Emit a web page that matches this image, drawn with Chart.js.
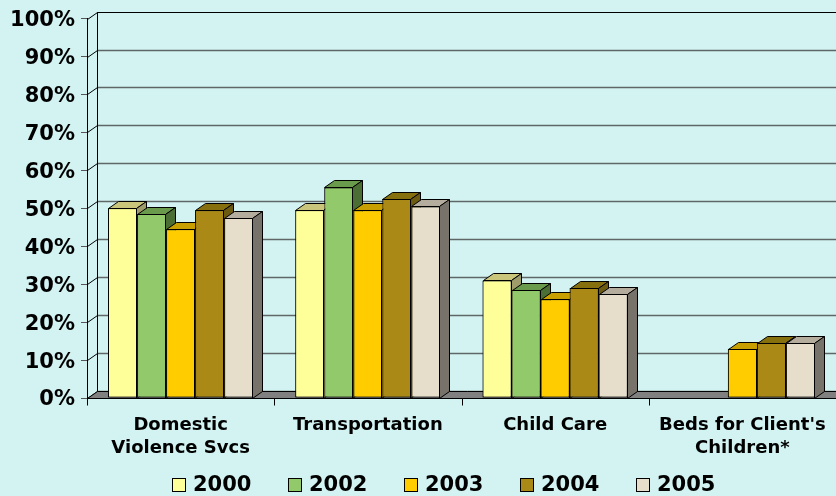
<!DOCTYPE html>
<html>
<head>
<meta charset="utf-8">
<script src="https://cdn.jsdelivr.net/npm/chart.js@4.4.0/dist/chart.umd.min.js"></script>
<style>
  html, body { margin: 0; padding: 0; background: #D3F3F3; }
  #wrap { width: 836px; height: 496px; }
</style>
</head>
<body>
<div id="wrap"><canvas id="c" width="836" height="496"></canvas></div>
<script>
// categories and values
const categories = [['Domestic', 'Violence Svcs'], 'Transportation', 'Child Care', ["Beds for Client's", 'Children*']];
const years = ['2000', '2002', '2003', '2004', '2005'];
const v2000 = [50, 49.5, 31, null];
const v2002 = [48.5, 55.5, 28.5, null];
const v2003 = [44.5, 49.5, 26, 13];
const v2004 = [49.5, 52.5, 29, 14.5];
const v2005 = [47.5, 50.5, 27.5, 14.5];
const yTicks = [0, 10, 20, 30, 40, 50, 60, 70, 80, 90, 100];

// front / top / side colours per series
const fronts = ['#FFFF99', '#92C96A', '#FFCC00', '#AA8916', '#E6DECA'];
const tops = ['#C9C57A', '#6A9A4C', '#C79F00', '#86700E', '#B4AC9C'];
const sides = ['#9E9C6B', '#4B6E34', '#9E7E00', '#6B5A10', '#77736A'];

const DX = 10, DY = -7; // depth offset of the 3d look
const FONT = "'DejaVu Sans', Verdana, sans-serif";

const series = [v2000, v2002, v2003, v2004, v2005];

const threeD = {
  id: 'threeD',
  beforeDraw(chart) {
    const ctx = chart.ctx;
    ctx.save();
    ctx.fillStyle = '#D3F3F3';
    ctx.fillRect(0, 0, chart.width, chart.height);
    ctx.restore();
  },
  beforeDatasetsDraw(chart) {
    const ctx = chart.ctx;
    const a = chart.chartArea;
    const y = chart.scales.y;
    ctx.save();
    // back wall gridlines
    yTicks.forEach(t => {
      const py = Math.round(y.getPixelForValue(t)) + 0.5;
      ctx.strokeStyle = t === 100 ? '#000' : '#5f6666';
      ctx.lineWidth = t === 100 ? 1 : 1.3;
      ctx.beginPath();
      ctx.moveTo(a.left + DX, py + DY);
      ctx.lineTo(a.right + DX, py + DY);
      ctx.stroke();
      // side wall connectors
      ctx.strokeStyle = '#000';
      ctx.lineWidth = 1;
      ctx.beginPath();
      ctx.moveTo(a.left + 0.5, py);
      ctx.lineTo(a.left + DX + 0.5, py + DY);
      ctx.stroke();
    });
    // back edge of side wall
    ctx.strokeStyle = '#000';
    ctx.lineWidth = 1;
    ctx.beginPath();
    ctx.moveTo(a.left + DX + 0.5, Math.round(a.top) + DY);
    ctx.lineTo(a.left + DX + 0.5, Math.round(a.bottom) + DY);
    ctx.stroke();
    // floor
    const b = Math.round(a.bottom) + 0.5;
    ctx.fillStyle = '#808080';
    ctx.beginPath();
    ctx.moveTo(a.left + 0.5, b);
    ctx.lineTo(a.right + DX, b);
    ctx.lineTo(a.right + DX, b + DY);
    ctx.lineTo(a.left + DX + 0.5, b + DY);
    ctx.closePath();
    ctx.fill();
    ctx.stroke();
    // category tick marks under the floor
    for (let i = 0; i <= categories.length; i++) {
      const px = Math.round(a.left + (a.right - a.left) * i / categories.length) + 0.5;
      ctx.beginPath();
      ctx.moveTo(px, b);
      ctx.lineTo(px, b + 7);
      ctx.stroke();
    }
    ctx.restore();
  },
  afterDatasetsDraw(chart) {
    // redraw bars left to right so each one hides its left neighbour's side
    const ctx = chart.ctx;
    series.forEach((vals, i) => {
      const meta = chart.getDatasetMeta(i);
      meta.data.forEach((el, j) => {
        if (vals[j] == null) return;
        el.draw(ctx);
        const p = el.getProps(['x', 'y', 'base', 'width'], true);
        const l = Math.round(p.x - p.width / 2) + 0.5;
        const r = Math.round(p.x + p.width / 2) - 0.5;
        const t = Math.round(p.y) + 0.5;
        const bt = Math.round(p.base) + 0.5;
        ctx.save();
        ctx.strokeStyle = '#000';
        ctx.lineWidth = 1;
        ctx.fillStyle = tops[i];
        ctx.beginPath();
        ctx.moveTo(l, t);
        ctx.lineTo(r, t);
        ctx.lineTo(r + DX, t + DY);
        ctx.lineTo(l + DX, t + DY);
        ctx.closePath();
        ctx.fill();
        ctx.stroke();
        ctx.fillStyle = sides[i];
        ctx.beginPath();
        ctx.moveTo(r, t);
        ctx.lineTo(r + DX, t + DY);
        ctx.lineTo(r + DX, bt + DY);
        ctx.lineTo(r, bt);
        ctx.closePath();
        ctx.fill();
        ctx.stroke();
        ctx.restore();
      });
    });
  },
  afterDraw(chart) {
    // legend row
    const ctx = chart.ctx;
    ctx.save();
    ctx.font = 'bold 21px ' + FONT;
    ctx.textBaseline = 'middle';
    years.forEach((yr, i) => {
      const bx = 172 + 116 * i;
      ctx.fillStyle = fronts[i];
      ctx.fillRect(bx + 0.5, 478.5, 13, 13);
      ctx.strokeStyle = '#000';
      ctx.lineWidth = 1;
      ctx.strokeRect(bx + 0.5, 478.5, 13, 13);
      ctx.fillStyle = '#000';
      ctx.fillText(yr, bx + 21, 486);
    });
    ctx.restore();
  }
};

new Chart(document.getElementById('c'), {
  type: 'bar',
  data: {
    labels: categories,
    datasets: years.map((yr, i) => ({
      label: yr,
      data: series[i],
      backgroundColor: fronts[i],
      borderColor: '#000',
      borderWidth: 1,
      borderSkipped: false,
      categoryPercentage: 0.775,
      barPercentage: 1
    }))
  },
  options: {
    responsive: false,
    animation: false,
    events: [],
    layout: { padding: { top: 17, left: 0, right: 0, bottom: 0 } },
    plugins: { legend: { display: false }, tooltip: { enabled: false } },
    scales: {
      x: {
        grid: { display: false, drawTicks: false },
        border: { display: false },
        ticks: {
          color: '#000',
          font: { family: FONT, size: 18, weight: 'bold', lineHeight: 1.28 },
          padding: 16,
          maxRotation: 0,
          autoSkip: false
        },
        afterFit(s) { s.height = 98; s.paddingLeft = 0; s.paddingRight = 0; }
      },
      y: {
        min: 0,
        max: 100,
        afterBuildTicks(s) { s.ticks = yTicks.map(v => ({ value: v })); },
        ticks: {
          color: '#000',
          font: { family: FONT, size: 21, weight: 'bold' },
          padding: 6,
          labelOffset: 2,
          callback: v => v + '%'
        },
        grid: { drawOnChartArea: false, tickLength: 6, color: '#555' },
        border: { color: '#000' },
        afterFit(s) { s.width = 87; }
      }
    }
  },
  plugins: [threeD]
});
</script>
</body>
</html>
